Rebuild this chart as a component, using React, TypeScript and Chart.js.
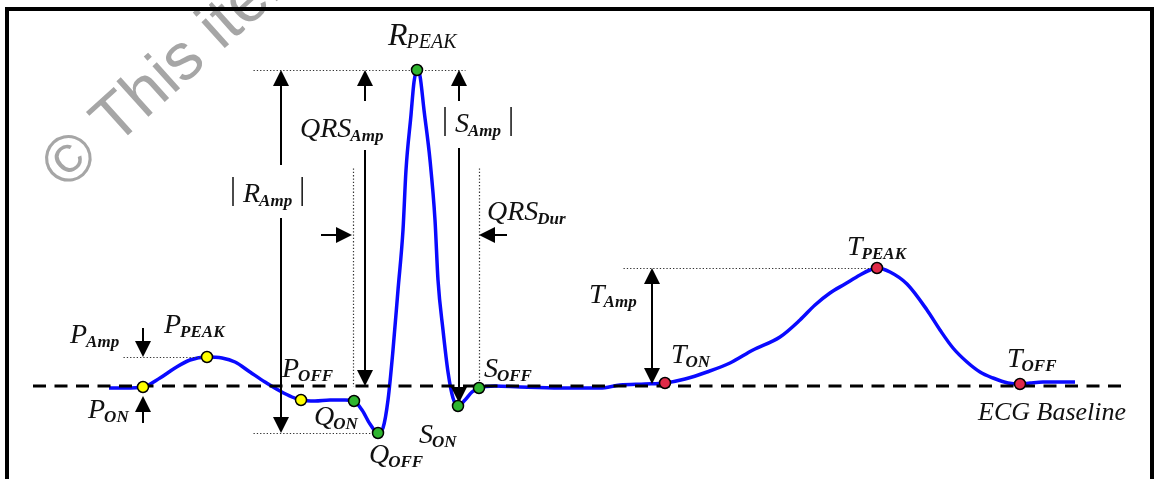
import React, { useEffect, useRef } from 'react';
import { Chart, registerables } from 'chart.js';

Chart.register(...registerables);

// ECG trace (time in ms, amplitude in mV)
const traceTime = [
  0, 16, 34, 51, 66, 81, 98, 113, 126, 141, 156, 171, 183, 192, 206, 221, 236, 245,
  253, 261, 269, 274, 279, 284, 289, 294, 297, 302, 305, 308, 311, 315, 321, 326,
  329, 334, 339, 344, 349, 356, 363, 370, 386, 411, 451, 491, 511, 536, 556, 576,
  598, 621, 644, 671, 691, 706, 721, 736, 751, 761, 768, 781, 798, 818, 831, 844,
  858, 871, 884, 899, 911, 921, 934, 951, 966,
];
const traceAmp = [
  -0.01, -0.01, -0.005, 0.04, 0.09, 0.13, 0.145, 0.14, 0.12, 0.07, 0.02, -0.025, -0.055, -0.07, -0.075, -0.07, -0.07, -0.075,
  -0.12, -0.19, -0.235, -0.21, -0.07, 0.18, 0.48, 0.78, 1.08, 1.355, 1.52, 1.58, 1.55, 1.38, 1.13, 0.83,
  0.53, 0.28, 0.07, -0.06, -0.1, -0.07, -0.03, -0.01, 0.0, -0.005, -0.01, -0.01, 0.005, 0.01, 0.015, 0.035,
  0.07, 0.115, 0.18, 0.245, 0.33, 0.405, 0.465, 0.51, 0.555, 0.58, 0.59, 0.57, 0.51, 0.38, 0.28, 0.19,
  0.12, 0.07, 0.04, 0.015, 0.01, 0.015, 0.02, 0.02, 0.02,
];

// Fiducial points
const fiducialNames = ['P_ON', 'P_PEAK', 'P_OFF', 'Q_ON', 'Q_OFF', 'R_PEAK', 'S_ON', 'S_OFF', 'T_ON', 'T_PEAK', 'T_OFF'];
const fiducialTime = [34, 98, 192, 245, 269, 308, 349, 370, 556, 768, 911];
const fiducialAmp = [-0.005, 0.145, -0.07, -0.075, -0.235, 1.58, -0.1, -0.01, 0.015, 0.59, 0.01];
const fiducialWave = ['P', 'P', 'P', 'QRS', 'QRS', 'QRS', 'QRS', 'QRS', 'T', 'T', 'T'];

const waveColors: Record<string, string> = { P: '#ffff00', QRS: '#2fb52f', T: '#e02a48' };

const amp = (name: string) => fiducialAmp[fiducialNames.indexOf(name)];
const time = (name: string) => fiducialTime[fiducialNames.indexOf(name)];

// axis ranges
const X_MIN = -109;
const X_MAX = 1045;
const Y_MIN = -0.465;
const Y_MAX = 1.93;

// Layout of labels (pixel offsets from fiducial point to text left/baseline)
const fiducialLabelLayout: Record<string, { main: string; sub: string; dx: number; dy: number; big?: boolean }> = {
  P_ON: { main: 'P', sub: 'ON', dx: -55, dy: 31 },
  P_PEAK: { main: 'P', sub: 'PEAK', dx: -43, dy: -24 },
  P_OFF: { main: 'P', sub: 'OFF', dx: -19, dy: -23 },
  Q_ON: { main: 'Q', sub: 'ON', dx: -40, dy: 24 },
  Q_OFF: { main: 'Q', sub: 'OFF', dx: -9, dy: 30 },
  R_PEAK: { main: 'R', sub: 'PEAK', dx: -29, dy: -25, big: true },
  S_ON: { main: 'S', sub: 'ON', dx: -39, dy: 37 },
  S_OFF: { main: 'S', sub: 'OFF', dx: 5, dy: -11 },
  T_ON: { main: 'T', sub: 'ON', dx: 6, dy: -20 },
  T_PEAK: { main: 'T', sub: 'PEAK', dx: -30, dy: -13 },
  T_OFF: { main: 'T', sub: 'OFF', dx: -13, dy: -17 },
};

const measureLabels = [
  { main: 'P', sub: 'Amp', t: -39, a: 0.215, bars: false },
  { main: 'R', sub: 'Amp', t: 134, a: 0.92, bars: true },
  { main: 'QRS', sub: 'Amp', t: 191, a: 1.245, bars: false },
  { main: 'S', sub: 'Amp', t: 346, a: 1.27, bars: true },
  { main: 'QRS', sub: 'Dur', t: 378, a: 0.83, bars: false },
  { main: 'T', sub: 'Amp', t: 480, a: 0.415, bars: false },
];

const SERIF = '"Liberation Serif", "Times New Roman", serif';

function drawArrowHead(ctx: CanvasRenderingContext2D, x0: number, y0: number, x1: number, y1: number) {
  const ang = Math.atan2(y1 - y0, x1 - x0);
  const len = 16;
  const hw = 8;
  ctx.beginPath();
  ctx.moveTo(x1, y1);
  ctx.lineTo(x1 - len * Math.cos(ang) + hw * Math.sin(ang), y1 - len * Math.sin(ang) - hw * Math.cos(ang));
  ctx.lineTo(x1 - len * Math.cos(ang) - hw * Math.sin(ang), y1 - len * Math.sin(ang) + hw * Math.cos(ang));
  ctx.closePath();
  ctx.fill();
}

function drawArrow(ctx: CanvasRenderingContext2D, x0: number, y0: number, x1: number, y1: number, both = false) {
  ctx.save();
  ctx.strokeStyle = '#000';
  ctx.fillStyle = '#000';
  ctx.lineWidth = 2;
  ctx.setLineDash([]);
  const ang = Math.atan2(y1 - y0, x1 - x0);
  const ex = x1 - 12 * Math.cos(ang);
  const ey = y1 - 12 * Math.sin(ang);
  const sx = both ? x0 + 12 * Math.cos(ang) : x0;
  const sy = both ? y0 + 12 * Math.sin(ang) : y0;
  ctx.beginPath();
  ctx.moveTo(sx, sy);
  ctx.lineTo(ex, ey);
  ctx.stroke();
  drawArrowHead(ctx, x0, y0, x1, y1);
  if (both) drawArrowHead(ctx, x1, y1, x0, y0);
  ctx.restore();
}

function drawLabel(ctx: CanvasRenderingContext2D, x: number, y: number, main: string, sub: string, big = false) {
  ctx.save();
  ctx.fillStyle = '#111';
  ctx.textBaseline = 'alphabetic';
  ctx.textAlign = 'left';
  ctx.font = `italic ${big ? 32 : 28}px ${SERIF}`;
  ctx.fillText(main, x, y);
  const w = ctx.measureText(main).width;
  ctx.font = big ? `italic 20px ${SERIF}` : `italic bold 17px ${SERIF}`;
  ctx.fillText(sub, x + w - 1, y + (big ? 3 : 4));
  const sw = ctx.measureText(sub).width;
  ctx.restore();
  return w - 1 + sw;
}

const ecgPlugin = {
  id: 'ecgAnnotations',
  beforeDatasetsDraw(chart: any) {
    // watermark
    const { ctx } = chart;
    ctx.save();
    ctx.translate(68, 158);
    ctx.rotate((-42 * Math.PI) / 180);
    ctx.font = '66px "Liberation Sans", Arial, sans-serif';
    ctx.fillStyle = '#a6a6a6';
    ctx.textBaseline = 'alphabetic';
    const cw = ctx.measureText('©').width;
    ctx.fillText('© This item is protected by copyright', -cw / 2, 66 * 0.35);
    ctx.restore();
  },
  afterDatasetDraw(chart: any, args: any) {
    if (args.index !== 1) return;
    const { ctx, scales } = chart;
    const X = (t: number) => scales.x.getPixelForValue(t);
    const Y = (a: number) => scales.y.getPixelForValue(a);

    // dashed ECG baseline
    ctx.save();
    ctx.strokeStyle = '#000';
    ctx.lineWidth = 3;
    ctx.setLineDash([13, 8.5]);
    ctx.beginPath();
    ctx.moveTo(X(-76), Y(0));
    ctx.lineTo(X(1018), Y(0));
    ctx.stroke();
    ctx.restore();

    // dotted guide lines
    ctx.save();
    ctx.strokeStyle = '#333';
    ctx.lineWidth = 1.2;
    ctx.setLineDash([1.3, 2]);
    const dotted = (t0: number, a0: number, t1: number, a1: number) => {
      ctx.beginPath();
      ctx.moveTo(Math.round(X(t0)) + 0.5, Math.round(Y(a0)) + 0.5);
      ctx.lineTo(Math.round(X(t1)) + 0.5, Math.round(Y(a1)) + 0.5);
      ctx.stroke();
    };
    dotted(144, amp('R_PEAK'), 356, amp('R_PEAK'));
    dotted(144, amp('Q_OFF'), 264, amp('Q_OFF'));
    dotted(14, amp('P_PEAK'), 91, amp('P_PEAK'));
    dotted(244, 1.09, 244, 0);
    dotted(time('S_OFF'), 1.09, time('S_OFF'), 0);
    dotted(514, amp('T_PEAK'), time('T_PEAK'), amp('T_PEAK'));
    ctx.restore();

    // arrows
    const rAmp = amp('R_PEAK');
    drawArrow(ctx, X(172), Y(1.105), X(172), Y(rAmp));
    drawArrow(ctx, X(172), Y(0.84), X(172), Y(amp('Q_OFF')));
    drawArrow(ctx, X(256), Y(1.425), X(256), Y(rAmp));
    drawArrow(ctx, X(256), Y(1.18), X(256), Y(0));
    drawArrow(ctx, X(350), Y(1.425), X(350), Y(rAmp));
    drawArrow(ctx, X(350), Y(1.19), X(350), Y(-0.085));
    drawArrow(ctx, X(212), Y(0.755), X(243), Y(0.755));
    drawArrow(ctx, X(398), Y(0.755), X(370), Y(0.755));
    drawArrow(ctx, X(34), Y(0.29), X(34), Y(amp('P_PEAK')));
    drawArrow(ctx, X(34), Y(-0.185), X(34), Y(-0.05));
    drawArrow(ctx, X(543), Y(0.01), X(543), Y(amp('T_PEAK')), true);
  },
  afterDraw(chart: any) {
    const { ctx, scales } = chart;
    const X = (t: number) => scales.x.getPixelForValue(t);
    const Y = (a: number) => scales.y.getPixelForValue(a);

    fiducialNames.forEach((name, i) => {
      const l = fiducialLabelLayout[name];
      drawLabel(ctx, X(fiducialTime[i]) + l.dx, Y(fiducialAmp[i]) + l.dy, l.main, l.sub, l.big);
    });

    measureLabels.forEach((l) => {
      const x = X(l.t);
      const y = Y(l.a);
      const w = drawLabel(ctx, x, y, l.main, l.sub);
      if (l.bars) {
        ctx.save();
        ctx.strokeStyle = '#111';
        ctx.lineWidth = 1.5;
        ctx.beginPath();
        ctx.moveTo(x - 10, y - 25);
        ctx.lineTo(x - 10, y + 4);
        ctx.moveTo(x + w + 10, y - 25);
        ctx.lineTo(x + w + 10, y + 4);
        ctx.stroke();
        ctx.restore();
      }
    });

    ctx.save();
    ctx.fillStyle = '#111';
    ctx.font = `italic 26px ${SERIF}`;
    ctx.fillText('ECG Baseline', X(869), Y(-0.17));
    ctx.restore();

    // frame
    ctx.save();
    ctx.strokeStyle = '#000';
    ctx.lineWidth = 4;
    ctx.beginPath();
    ctx.moveTo(7, 490);
    ctx.lineTo(7, 9);
    ctx.lineTo(1152, 9);
    ctx.lineTo(1152, 490);
    ctx.stroke();
    ctx.restore();
  },
};

export default function App() {
  const ref = useRef<HTMLCanvasElement>(null);
  useEffect(() => {
    document.body.style.margin = '0';
    const chart = new Chart(ref.current as HTMLCanvasElement, {
      type: 'line',
      data: {
        datasets: [
          {
            label: 'Fiducials',
            data: fiducialTime.map((t, i) => ({ x: t, y: fiducialAmp[i] })),
            showLine: false,
            pointRadius: 5.5,
            pointBorderWidth: 1.5,
            pointBorderColor: '#000',
            pointBackgroundColor: fiducialWave.map((w) => waveColors[w]),
          },
          {
            label: 'ECG',
            data: traceTime.map((t, i) => ({ x: t, y: traceAmp[i] })),
            borderColor: '#0a0aff',
            borderWidth: 3.5,
            pointRadius: 0,
            fill: false,
            cubicInterpolationMode: 'monotone',
          },
        ],
      },
      options: {
        responsive: false,
        animation: false,
        devicePixelRatio: 1,
        events: [],
        layout: { padding: 0, autoPadding: false },
        plugins: { legend: { display: false }, tooltip: { enabled: false } },
        scales: {
          x: { type: 'linear', min: X_MIN, max: X_MAX, display: false },
          y: { type: 'linear', min: Y_MIN, max: Y_MAX, display: false },
        },
      } as any,
      plugins: [ecgPlugin],
    });
    return () => chart.destroy();
  }, []);
  return (
    <div style={{ position: 'fixed', left: 0, top: 0, width: 1154, height: 479, background: '#fff' }}>
      <canvas ref={ref} width={1154} height={479} style={{ display: 'block' }} />
    </div>
  );
}
